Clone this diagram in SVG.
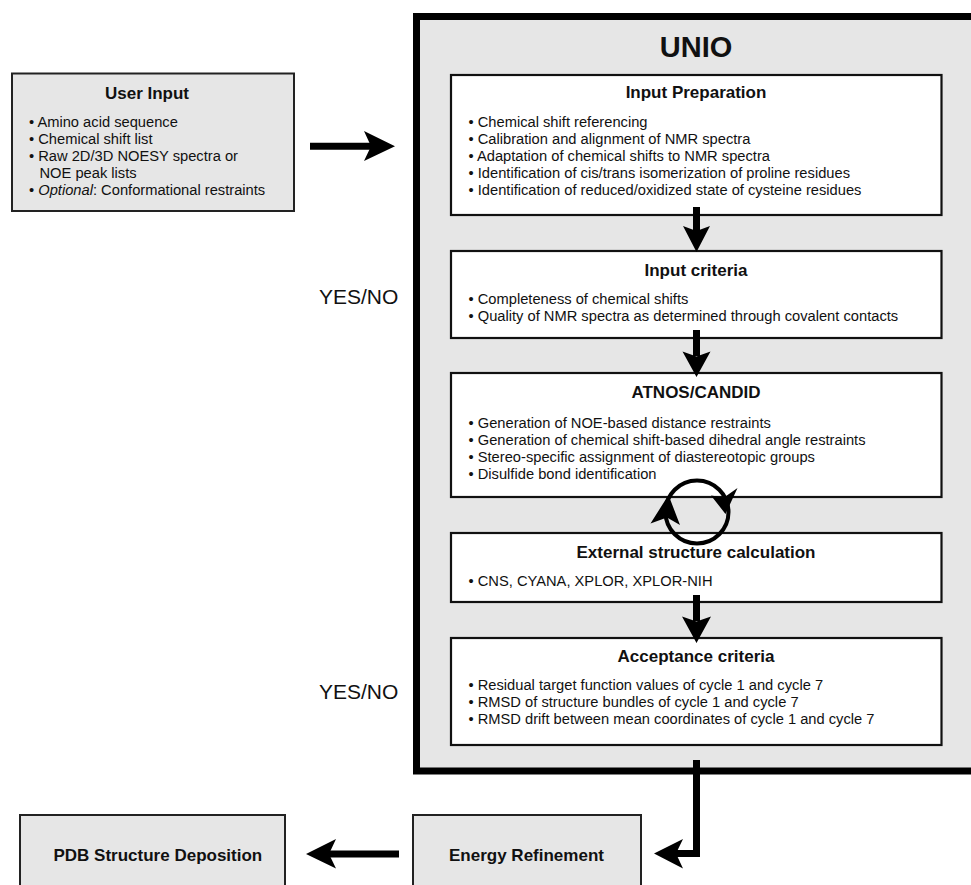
<svg xmlns="http://www.w3.org/2000/svg" width="971" height="885" viewBox="0 0 971 885">
<style>
  .gbox{fill:#e6e6e6;stroke:#222;stroke-width:2}
  .wbox{fill:#fff;stroke:#111;stroke-width:2.2}
  .title{font-family:"Liberation Sans",Arial,sans-serif;font-weight:bold;font-size:17px;fill:#111;text-anchor:middle}
  .body{font-family:"Liberation Sans",Arial,sans-serif;font-size:14.7px;fill:#111}
  .big{font-family:"Liberation Sans",Arial,sans-serif;font-size:21px;fill:#111}
  .shaft{fill:none;stroke:#000;stroke-width:7}
  .head{fill:#000}
</style>
<rect width="971" height="885" fill="#fff"/>

<g id="unio">
  <rect x="416.5" y="16.5" width="570" height="754.5" fill="#e6e6e6" stroke="#000" stroke-width="7"/>
  <text x="696" y="57" style="font-family:'Liberation Sans',Arial,sans-serif;font-weight:bold;font-size:29px;fill:#111;text-anchor:middle">UNIO</text>
</g>

<g id="user-input">
  <rect class="gbox" x="12" y="73.5" width="282" height="137.5"/>
  <text class="title" x="147" y="99.3">User Input</text>
  <text class="body" x="29" y="126.5">• Amino acid sequence</text>
  <text class="body" x="29" y="143.5">• Chemical shift list</text>
  <text class="body" x="29" y="160.5">• Raw 2D/3D NOESY spectra or</text>
  <text class="body" x="39.5" y="177.5">NOE peak lists</text>
  <text class="body" x="29" y="194.5">• <tspan font-style="italic">Optional</tspan>: Conformational restraints</text>
</g>

<g id="input-preparation">
  <rect class="wbox" x="451" y="75" width="490.5" height="140"/>
  <text class="title" x="696" y="98.3">Input Preparation</text>
  <text class="body" x="468.5" y="127">• Chemical shift referencing</text>
  <text class="body" x="468.5" y="144">• Calibration and alignment of NMR spectra</text>
  <text class="body" x="468.5" y="161">• Adaptation of chemical shifts to NMR spectra</text>
  <text class="body" x="468.5" y="178">• Identification of cis/trans isomerization of proline residues</text>
  <text class="body" x="468.5" y="195">• Identification of reduced/oxidized state of cysteine residues</text>
</g>

<g id="input-criteria">
  <rect class="wbox" x="451" y="251" width="490.5" height="87"/>
  <text class="title" x="696" y="276">Input criteria</text>
  <text class="body" x="468.5" y="304">• Completeness of chemical shifts</text>
  <text class="body" x="468.5" y="321">• Quality of NMR spectra as determined through covalent contacts</text>
</g>

<g id="atnos-candid">
  <rect class="wbox" x="451" y="373" width="490.5" height="124"/>
  <text class="title" x="696" y="398.3">ATNOS/CANDID</text>
  <text class="body" x="468.5" y="428">• Generation of NOE-based distance restraints</text>
  <text class="body" x="468.5" y="445">• Generation of chemical shift-based dihedral angle restraints</text>
  <text class="body" x="468.5" y="462">• Stereo-specific assignment of diastereotopic groups</text>
  <text class="body" x="468.5" y="479">• Disulfide bond identification</text>
</g>

<g id="external-structure-calculation">
  <rect class="wbox" x="451" y="533" width="490.5" height="69"/>
  <text class="title" x="696" y="557.5">External structure calculation</text>
  <text class="body" x="468.5" y="586">• CNS, CYANA, XPLOR, XPLOR-NIH</text>
</g>

<g id="acceptance-criteria">
  <rect class="wbox" x="451" y="638" width="490.5" height="107"/>
  <text class="title" x="696" y="662">Acceptance criteria</text>
  <text class="body" x="468.5" y="690">• Residual target function values of cycle 1 and cycle 7</text>
  <text class="body" x="468.5" y="707">• RMSD of structure bundles of cycle 1 and cycle 7</text>
  <text class="body" x="468.5" y="724">• RMSD drift between mean coordinates of cycle 1 and cycle 7</text>
</g>

<g id="yes-no-labels">
  <text class="big" x="319" y="304">YES/NO</text>
  <text class="big" x="319" y="699">YES/NO</text>
</g>

<g id="energy-refinement">
  <rect class="gbox" x="413" y="815" width="228" height="90"/>
  <text x="449" y="861" style="font-family:'Liberation Sans',Arial,sans-serif;font-weight:bold;font-size:17px;fill:#111">Energy Refinement</text>
</g>

<g id="pdb-structure-deposition">
  <rect class="gbox" x="20" y="815" width="265" height="90"/>
  <text x="53.5" y="860.5" style="font-family:'Liberation Sans',Arial,sans-serif;font-weight:bold;font-size:17px;fill:#111">PDB Structure Deposition</text>
</g>

<g id="connectors">
  <!-- User Input -> UNIO -->
  <line class="shaft" x1="310" y1="146.3" x2="372" y2="146.3"/>
  <polygon class="head" points="395,146.3 364,131 371,146.3 364,161"/>
  <!-- Input Preparation -> Input criteria -->
  <line class="shaft" x1="696.5" y1="207" x2="696.5" y2="232"/>
  <polygon class="head" points="696.5,252 683,226 696.5,231 710,226"/>
  <!-- Input criteria -> ATNOS/CANDID -->
  <line class="shaft" x1="696.5" y1="330" x2="696.5" y2="356"/>
  <polygon class="head" points="696.5,377 682.5,351.5 696.5,356.5 710.5,351.5"/>
  <!-- ATNOS <-> External cycle -->
  <circle cx="697" cy="512" r="31.5" fill="none" stroke="#000" stroke-width="4"/>
  <polygon class="head" points="668.5,495 680,525 667,517.5 650.5,523.5"/>
  <polygon class="head" points="725.5,514 711,495.5 724,497.5 737.5,488"/>
  <!-- External -> Acceptance -->
  <line class="shaft" x1="696.5" y1="595" x2="696.5" y2="621"/>
  <polygon class="head" points="696.5,643 682,616.5 696.5,621.5 711,616.5"/>
  <!-- Acceptance / UNIO -> Energy Refinement -->
  <path class="shaft" d="M696.5,760 V853.5 H676"/>
  <polygon class="head" points="654,853.5 683,839 676,853.5 683,868.5"/>
  <!-- Energy Refinement -> PDB -->
  <line class="shaft" x1="399" y1="854" x2="328" y2="854"/>
  <polygon class="head" points="306,854 336,839 329,854 336,868.5"/>
</g>
</svg>
